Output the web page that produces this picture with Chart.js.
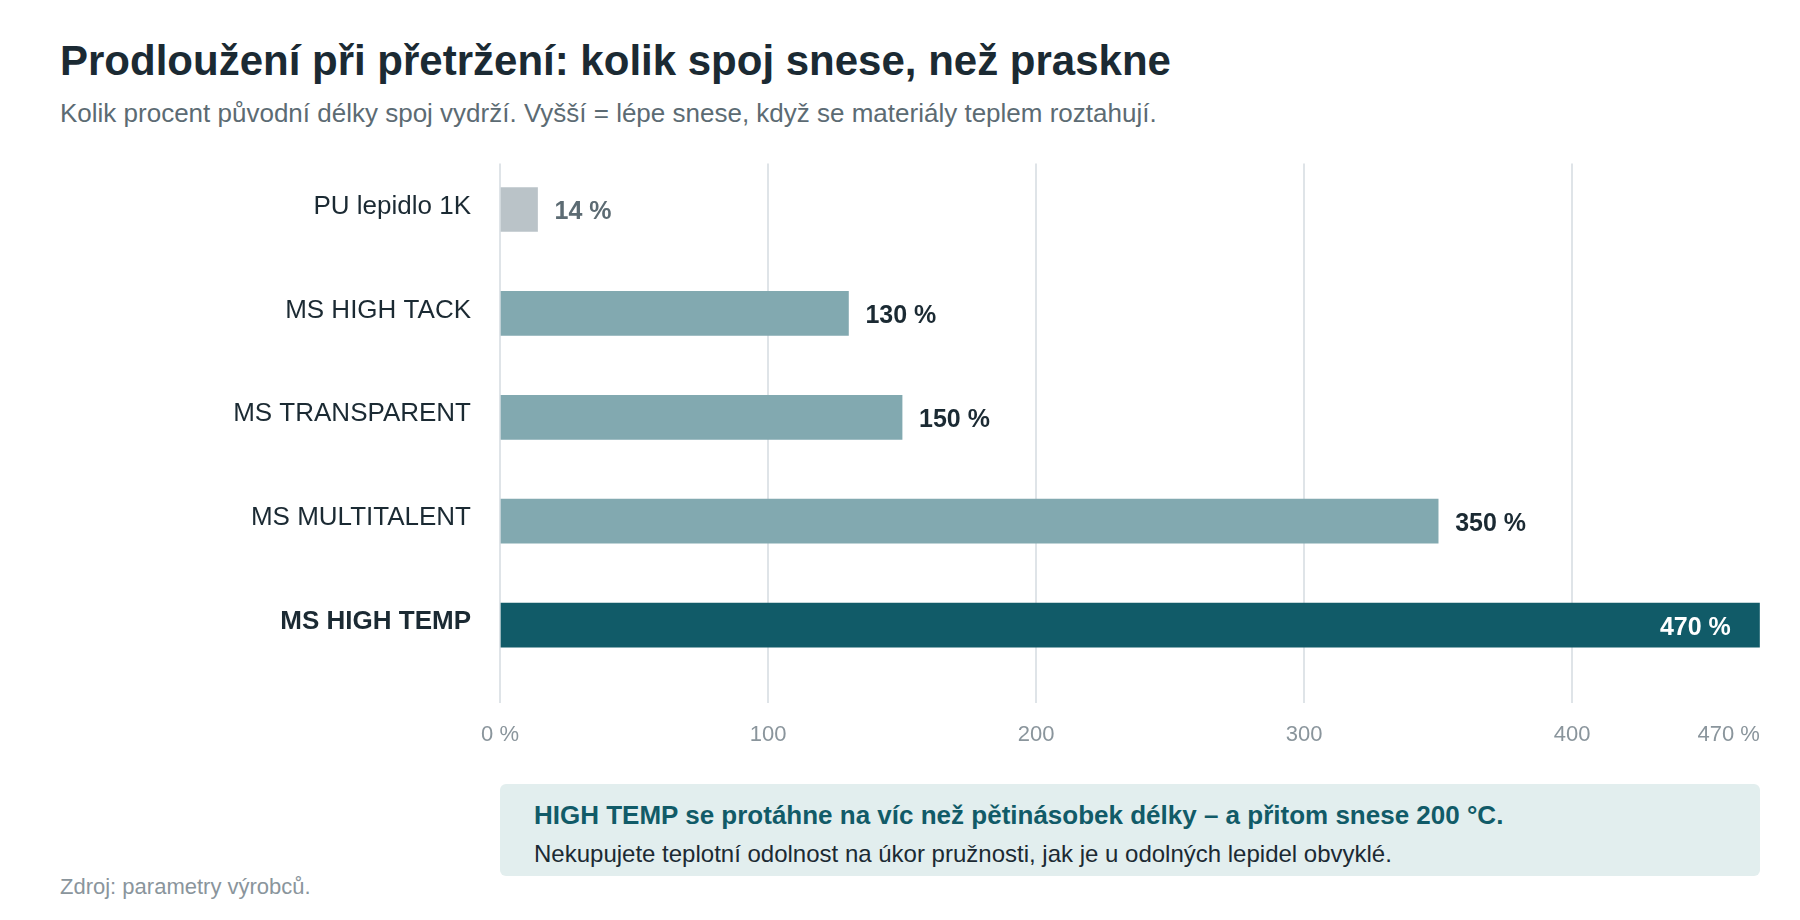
<!DOCTYPE html>
<html lang="cs">
<head>
<meta charset="utf-8">
<title>Prodloužení při přetržení</title>
<script src="https://cdn.jsdelivr.net/npm/chart.js@4.4.0/dist/chart.umd.min.js"></script>
<style>
  body { margin: 0; background: #fff; font-family: "Liberation Sans", Arial, Helvetica, sans-serif; }
  #page { position: relative; width: 1800px; height: 920px; overflow: hidden; }
  .title { position: absolute; left: 60px; top: 38px; font-size: 42px; line-height: 46px; font-weight: bold; color: #1b2a33; white-space: nowrap; }
  .subtitle { position: absolute; left: 60px; top: 98px; font-size: 26px; line-height: 30px; color: #5c6b73; white-space: nowrap; }
  #chartBox { position: absolute; left: 0; top: 113px; width: 1810px; height: 654px; }
  .callout { position: absolute; left: 500px; top: 784px; width: 1260px; height: 92px; background: #e2eeee; border-radius: 6px; }
  .callout .lead { position: absolute; left: 34px; top: 16px; font-size: 26px; line-height: 30px; font-weight: bold; color: #115b68; white-space: nowrap; }
  .callout .note { position: absolute; left: 34px; top: 56px; font-size: 24px; line-height: 28px; color: #1b2a33; white-space: nowrap; }
  .source { position: absolute; left: 60px; top: 874px; font-size: 22px; line-height: 26px; color: #8a959c; white-space: nowrap; }
</style>
</head>
<body>
<div id="page">
  <div class="title">Prodloužení při přetržení: kolik spoj snese, než praskne</div>
  <div class="subtitle">Kolik procent původní délky spoj vydrží. Vyšší = lépe snese, když se materiály teplem roztahují.</div>
  <div id="chartBox"><canvas id="elongationChart" width="1810" height="654"></canvas></div>
  <div class="callout">
    <div class="lead">HIGH TEMP se protáhne na víc než pětinásobek délky – a přitom snese 200 °C.</div>
    <div class="note">Nekupujete teplotní odolnost na úkor pružnosti, jak je u odolných lepidel obvyklé.</div>
  </div>
  <div class="source">Zdroj: parametry výrobců.</div>
</div>
<script>
const categories = ['PU lepidlo 1K', 'MS HIGH TACK', 'MS TRANSPARENT', 'MS MULTITALENT', 'MS HIGH TEMP'];
const elongation = [14, 130, 150, 350, 470];
const barColors = ['#bac3c8', '#82a9b0', '#82a9b0', '#82a9b0', '#115b68'];
const xTickValues = [0, 100, 200, 300, 400, 470];
const xTickLabels = ['0 %', '100', '200', '300', '400', '470 %'];

const FONT = '"Liberation Sans", Arial, Helvetica, sans-serif';
const highlight = categories.length - 1;
const gridColor = '#dfe4e8';

// popisky hodnot u konce sloupce
const valueLabels = {
  id: 'valueLabels',
  afterDatasetsDraw(chart) {
    const ctx = chart.ctx;
    const meta = chart.getDatasetMeta(0);
    ctx.save();
    ctx.font = 'bold 25px ' + FONT;
    ctx.textBaseline = 'middle';
    meta.data.forEach((bar, i) => {
      const txt = elongation[i] + ' %';
      if (i === highlight) {
        ctx.fillStyle = '#ffffff';
        ctx.textAlign = 'right';
        ctx.fillText(txt, bar.x - 29, bar.y + 3);
      } else {
        ctx.fillStyle = i === 0 ? '#5c6b73' : '#1b2a33';
        ctx.textAlign = 'left';
        ctx.fillText(txt, bar.x + 17, bar.y + 3);
      }
    });
    ctx.restore();
  }
};

// posledni popisek osy x zarovnat doprava
const lastTickRight = {
  id: 'lastTickRight',
  beforeDraw(chart) {
    const items = chart.scales.x.getLabelItems();
    const last = items[items.length - 1];
    if (last) last.options.textAlign = 'right';
  }
};

// mrizka zacina kousek pod hornim okrajem plochy
const gridClip = {
  id: 'gridClip',
  beforeDraw(chart) {
    const ctx = chart.ctx;
    ctx.save();
    ctx.beginPath();
    ctx.rect(0, chart.chartArea.top + 6, chart.width, chart.height);
    ctx.clip();
  },
  beforeDatasetsDraw(chart) {
    chart.ctx.restore();
  }
};

new Chart(document.getElementById('elongationChart').getContext('2d'), {
  type: 'bar',
  data: {
    labels: categories,
    datasets: [{
      data: elongation,
      backgroundColor: barColors,
      borderWidth: 0,
      barThickness: 44
    }]
  },
  options: {
    indexAxis: 'y',
    responsive: false,
    animation: false,
    layout: { padding: { top: 0, right: 40, left: 0, bottom: 0 } },
    plugins: { legend: { display: false }, tooltip: { enabled: false } },
    scales: {
      x: {
        min: 0,
        max: 470,
        afterBuildTicks: s => { s.ticks = xTickValues.map(v => ({ value: v })); },
        afterFit: s => { s.height = 90; },
        grid: {
          // bez mrizky na konci osy (470)
          color: c => (c.tick && c.tick.value === 470 ? 'rgba(0,0,0,0)' : gridColor),
          tickColor: c => (c.tick && c.tick.value === 470 ? 'rgba(0,0,0,0)' : gridColor),
          lineWidth: 2,
          drawTicks: true,
          tickLength: 26
        },
        border: { display: false },
        ticks: {
          color: '#8a959c',
          font: { family: FONT, size: 22 },
          padding: 19,
          maxRotation: 0,
          autoSkip: false,
          callback: (v, i) => xTickLabels[i]
        }
      },
      y: {
        afterFit: s => { s.width = 500; },
        grid: { display: false, drawTicks: false },
        border: { display: false },
        ticks: {
          padding: 29,
          labelOffset: -3,
          color: '#1b2a33',
          font: ctx => ({ family: FONT, size: 26, weight: ctx.index === highlight ? 'bold' : 'normal' })
        }
      }
    }
  },
  plugins: [gridClip, valueLabels, lastTickRight]
});
</script>
</body>
</html>
